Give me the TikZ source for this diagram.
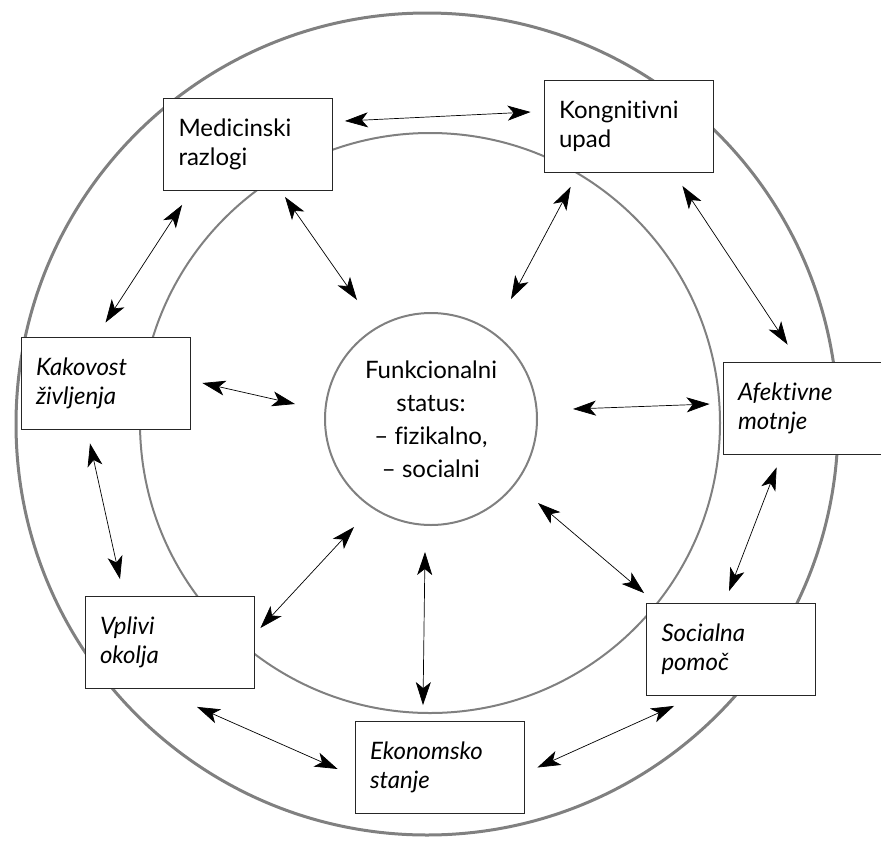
\documentclass[tikz,border=0pt]{standalone}
\usepackage{fontspec}
\setmainfont{Lato}[Ligatures=NoCommon]
\usetikzlibrary{arrows.meta}
\usetikzlibrary{calc}

\tikzset{
  ring/.style={draw=black!50},
  factor/.style={draw=black!85, fill=white, line width=0.8pt, text width=139pt,
    inner xsep=15pt, minimum height=92pt, align=left,
    font=\fontsize{24}{29}\selectfont},
  dbl/.style={{Stealth[length=23pt,width=15pt,inset=6pt]}-{Stealth[length=23pt,width=15pt,inset=6pt]},
    line width=0.7pt}
}

\begin{document}
\begin{tikzpicture}[x=1pt,y=-1pt]%funkcionalni status
\useasboundingbox (0,0) rectangle (881,841);
\clip (0,0) rectangle (881,841);
\draw[ring, line width=3pt] (427,424) circle (411);
\draw[ring, line width=2pt] (430,423) circle (290);
\node[ring, line width=2pt, circle, minimum size=212pt, align=center,
  font=\fontsize{24}{33}\selectfont] (fs) at (431,419)
  {Funkcionalni\\status:\\-- fizikalno,\\-- socialni};
\node[factor] (med) at (248,144.5) {Medicinski\\razlogi};
\node[factor] (kog) at (628.5,126.5) {Kongnitivni\\upad};
\node[factor] (kak) at (105.5,383) {\itshape Kakovost\\življenja};
\node[factor] (afe) at (807.5,408) {\itshape Afektivne\\motnje};
\node[factor] (vpl) at (169.5,642.5) {\itshape Vplivi\\okolja};
\node[factor] (eko) at (439.5,767.5) {\itshape Ekonomsko\\stanje};
\node[factor] (soc) at (731,649.5) {\itshape Socialna\\pomoč};
% puscice
\draw[dbl] ([shift={(12,-23.5)}]med.east) -- ([shift={(-13,-14.5)}]kog.west);
\draw[dbl] ([shift={(37,6)}]med.south) -- ([shift={(-74,-119)}]fs.center);
\draw[dbl] ([shift={(19,14)}]med.south west) -- ([shift={(0,-14)}]kak.north);
\draw[dbl] ([shift={(27,14)}]kog.south west) -- ([shift={(80,-120)}]fs.center);
\draw[dbl] ([shift={(-31,13)}]kog.south east) -- ([shift={(65,-17)}]afe.north west);
\draw[dbl] ([shift={(12,0)}]kak.east) -- ([shift={(-136,-15)}]fs.center);
\draw[dbl] ([shift={(142,-10)}]fs.center) -- ([shift={(-13,-4)}]afe.west);
\draw[dbl] ([shift={(-15.5,14)}]kak.south) -- ([shift={(-49.5,-17)}]vpl.north);
\draw[dbl] ([shift={(6,-14.5)}]vpl.east) -- ([shift={(-77,108)}]fs.center);
\draw[dbl] ([shift={(-6,133)}]fs.center) -- ([shift={(-16.5,-16)}]eko.north);
\draw[dbl] ([shift={(27.5,18)}]vpl.south) -- ([shift={(-17,1.5)}]eko.west);
\draw[dbl] ([shift={(107,84)}]fs.center) -- ([shift={(-2,-10)}]soc.north west);
\draw[dbl] ([shift={(54,13)}]afe.south west) -- ([shift={(-2,-12)}]soc.north);
\draw[dbl] ([shift={(13,0)}]eko.east) -- ([shift={(28,10)}]soc.south west);
\end{tikzpicture}
\end{document}
